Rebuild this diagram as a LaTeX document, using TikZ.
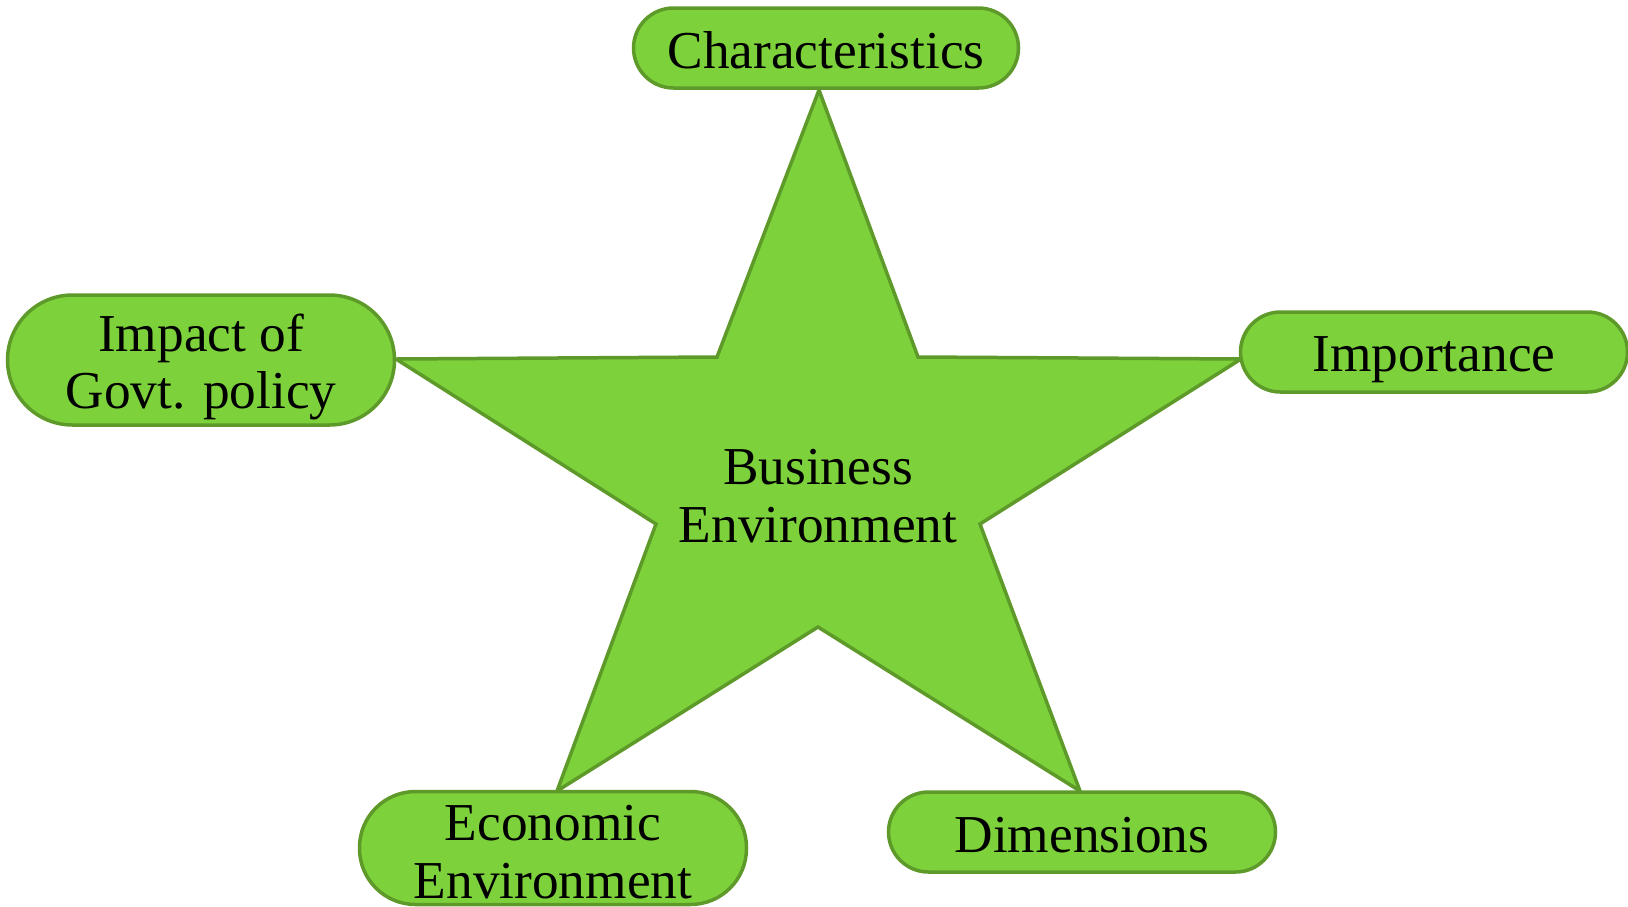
\documentclass[tikz,border=0pt]{standalone}
\usepackage{fontspec}
\setmainfont{Liberation Serif}
\definecolor{gfill}{HTML}{7DD13B}
\definecolor{gline}{HTML}{5E9A2A}
\newcommand{\lowr}[2]{\raisebox{-#1pt}[\height][\depth]{#2}}
\begin{document}
\begin{tikzpicture}[x=1pt,y=-1pt,
  pill/.style={draw=gline, fill=gfill, line width=3.5pt, rounded corners=#1,
    inner sep=0pt, minimum width=387pt, align=center,
    font=\fontsize{53.3}{57.5}\selectfont},
  lbl/.style={inner sep=0pt, align=center, font=\fontsize{53.3}{57.5}\selectfont}]
\useasboundingbox (0,0) rectangle (1628,906);
% star
\draw[draw=gline, fill=gfill, line width=3.5pt, line join=miter]
  (819,90) -- (918,357) -- (1241,359) -- (980,524) -- (1080,791)
  -- (818,627) -- (557,791) -- (656,524) -- (396,359) -- (717,357) -- cycle;
\node[lbl] (center) at (818,495) {\lowr{1}{Business}\\\lowr{1}{Environment}};
\node[pill=40pt, minimum height=80pt, minimum width=385pt] (char) at (826,48) {\lowr{2}{Characteristics}};
\node[pill=65pt, minimum height=130pt] (imp) at (201,360) {\lowr{7}{Impact of}\\\lowr{7}{Govt. policy}};
\node[pill=40pt, minimum height=80pt] (impt) at (1434,352) {\lowr{8}{Importance}};
\node[pill=56pt, minimum height=113pt] (econ) at (553,848) {\lowr{4}{Economic}\\\lowr{4}{Environment}};
\node[pill=40pt, minimum height=80pt] (dim) at (1082,832) {\lowr{3}{Dimensions}};
\end{tikzpicture}
\end{document}
